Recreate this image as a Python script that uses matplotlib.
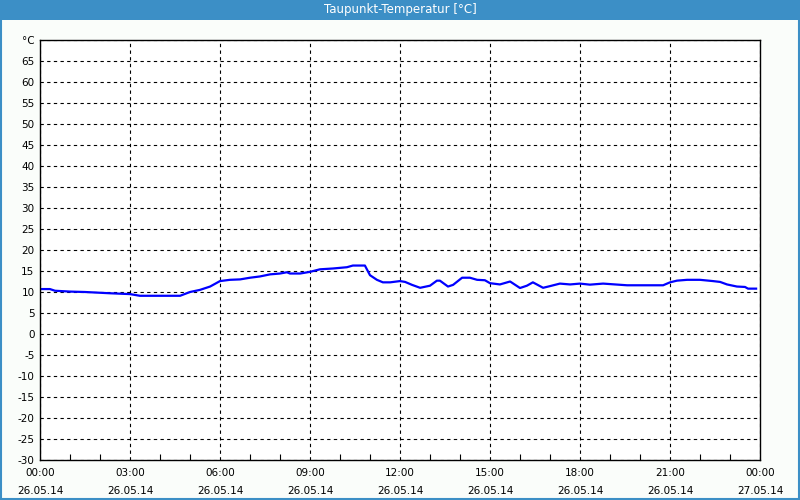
import matplotlib
matplotlib.use('Agg')
import matplotlib.pyplot as plt
from matplotlib.patches import Rectangle

# Stunden seit 26.05.14 00:00 und Taupunkt in °C
hours = [0.0, 0.33, 0.5, 1.0, 1.5, 2.33, 3.0, 3.33, 4.67, 5.0, 5.33, 5.67, 6.0,
         6.33, 6.67, 7.0, 7.33, 7.67, 8.0, 8.23, 8.33, 8.67, 9.0, 9.33, 9.77,
         10.23, 10.43, 10.83, 11.0, 11.23, 11.43, 11.67, 12.0, 12.17, 12.4,
         12.67, 13.0, 13.23, 13.33, 13.6, 13.77, 14.07, 14.33, 14.57, 14.83,
         15.0, 15.33, 15.67, 16.0, 16.23, 16.43, 16.77, 17.0, 17.33, 17.67,
         18.0, 18.33, 18.77, 19.57, 20.77, 21.0, 21.23, 21.57, 22.0, 22.43,
         22.67, 22.9, 23.23, 23.5, 23.6, 23.87]
dewpoint = [10.7, 10.7, 10.3, 10.1, 10.0, 9.7, 9.5, 9.1, 9.1, 10.0, 10.5, 11.3,
            12.6, 12.9, 13.0, 13.4, 13.7, 14.2, 14.4, 14.7, 14.4, 14.4, 14.8,
            15.4, 15.6, 15.9, 16.3, 16.3, 14.0, 12.9, 12.3, 12.3, 12.6, 12.4,
            11.7, 11.0, 11.5, 12.7, 12.7, 11.3, 11.7, 13.4, 13.4, 12.9, 12.8,
            12.1, 11.8, 12.5, 10.95, 11.5, 12.3, 11.0, 11.4, 12.0, 11.8, 12.0,
            11.75, 12.0, 11.6, 11.6, 12.3, 12.7, 12.9, 12.9, 12.6, 12.4, 11.8,
            11.3, 11.2, 10.8, 10.8]

x_ticks = [0, 3, 6, 9, 12, 15, 18, 21, 24]
x_labels = ['00:00\n26.05.14', '03:00\n26.05.14', '06:00\n26.05.14',
            '09:00\n26.05.14', '12:00\n26.05.14', '15:00\n26.05.14',
            '18:00\n26.05.14', '21:00\n26.05.14', '00:00\n27.05.14']
y_ticks = list(range(-30, 75, 5))
y_labels = [str(v) for v in y_ticks[:-1]] + ['°C']

fig = plt.figure(figsize=(8, 5), dpi=100, facecolor='#fafdfa')
ax = fig.add_axes([0.05, 0.08, 0.90, 0.84])
ax.set_facecolor('white')

ax.plot(hours, dewpoint, color='#0000ff', linewidth=1.6)

ax.set_xlim(0, 24)
ax.set_ylim(-30, 70)
ax.set_xticks(x_ticks)
ax.set_xticklabels(x_labels, fontsize=7.5, linespacing=1.9)
ax.set_xticks(range(0, 25), minor=True)
ax.set_yticks(y_ticks)
ax.set_yticklabels(y_labels, fontsize=7.5)
ax.tick_params(axis='y', length=0, pad=4)
ax.tick_params(axis='x', which='major', length=0, pad=6)
ax.tick_params(axis='x', which='minor', direction='in', length=4, width=0.8)
ax.grid(True, color='black', linestyle=(0, (3, 3)), linewidth=0.8)
for s in ax.spines.values():
    s.set_linewidth(1.0)

# Titelleiste und Rahmen
fig.add_artist(Rectangle((0, 0.96), 1, 0.04, transform=fig.transFigure,
                         facecolor='#3c8fc6', edgecolor='none'))
fig.add_artist(Rectangle((0.001, 0.002), 0.998, 0.996, transform=fig.transFigure,
                         facecolor='none', edgecolor='#3c8fc6', linewidth=1.5))
fig.text(0.5, 0.981, 'Taupunkt-Temperatur [°C]', color='white', fontsize=8.5,
         ha='center', va='center')

plt.savefig('out.png', dpi=100, facecolor=fig.get_facecolor())
